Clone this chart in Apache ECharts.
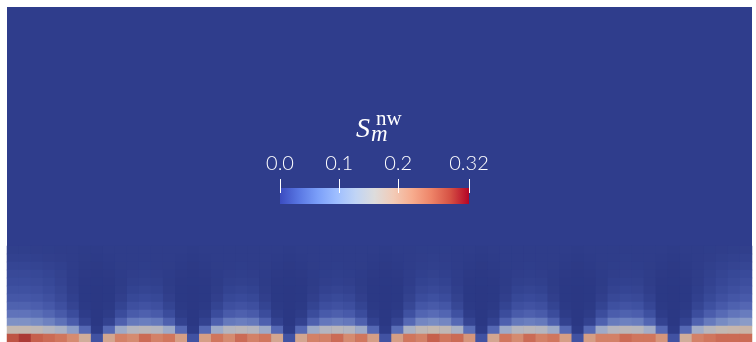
<!DOCTYPE html>
<html><head><meta charset="utf-8">
<script src="https://cdn.jsdelivr.net/npm/echarts@6/dist/echarts.min.js"></script>
<style>html,body{margin:0;padding:0;background:#fff}#c{width:756px;height:342px}</style>
</head><body><div id="c"></div><script>
// Saturation S_m^nw near the bottom boundary: rows top -> bottom, 62 columns left -> right
const satMax = 0.32;
const cbTicks = [0, 0.1, 0.2, 0.32];
const cbLabels = ['0.0', '0.1', '0.2', '0.32'];
const coolwarm = ['#3b4cc0','#5977e3','#7b9ff9','#9ebeff','#c0d4f5','#dddcdc','#f2cbb7','#f7ac8e','#ee8468','#d65244','#b40426'];
const fieldColors = ['#2b3884','#334290','#3b4c9c','#4658a8','#5568b4','#6a7ebf','#8093c6','#98a6c9','#b0b4c4','#c4b8b0','#d0ad9a','#d59e85','#d58b70','#d0765d','#c6604c','#b6483c','#a02c2e'];

const row0  = [.013,.013,.012,.011,.01,.01,.008, .008, .01,.01,.01,.01,.01,.01,.01, .008, .01,.01,.01,.01,.01,.01,.01, .008, .01,.01,.01,.01,.01,.01,.01, .008, .01,.01,.011,.011,.011,.01,.01, .008, .01,.01,.01,.01,.01,.01,.01, .008, .01,.01,.01,.01,.01,.01,.01, .008, .01,.01,.011,.012,.013,.014];
const row1  = [.018,.018,.016,.014,.012,.01,.007, .006, .008,.01,.01,.01,.01,.01,.008, .006, .008,.01,.01,.01,.01,.01,.008, .006, .008,.01,.01,.01,.01,.01,.008, .006, .008,.01,.012,.013,.012,.01,.008, .006, .008,.01,.01,.01,.01,.01,.008, .006, .008,.01,.01,.011,.01,.01,.008, .006, .008,.01,.012,.015,.018,.02];
const row2  = [.026,.026,.023,.02,.016,.01,.005, .004, .006,.009,.01,.011,.01,.009,.006, .004, .006,.009,.01,.011,.01,.009,.006, .004, .006,.009,.01,.011,.01,.009,.006, .004, .006,.01,.013,.015,.013,.01,.006, .004, .006,.009,.01,.011,.01,.009,.006, .004, .006,.009,.011,.012,.011,.009,.006, .004, .006,.01,.015,.02,.024,.027];
const row3  = [.034,.034,.031,.026,.019,.01,.004, .002, .004,.008,.012,.013,.012,.008,.004, .002, .004,.008,.012,.013,.012,.008,.004, .002, .004,.008,.011,.013,.011,.008,.004, .002, .004,.01,.016,.019,.016,.01,.004, .002, .004,.008,.012,.013,.012,.008,.004, .002, .004,.008,.012,.014,.013,.009,.004, .002, .004,.009,.017,.025,.031,.036];
const row4  = [.04,.04,.037,.031,.022,.01,.002, .001, .002,.007,.015,.017,.015,.007,.002, .001, .002,.007,.015,.017,.015,.007,.002, .001, .002,.007,.014,.016,.014,.007,.002, .001, .002,.01,.021,.025,.021,.01,.002, .001, .002,.007,.015,.017,.015,.007,.002, .001, .002,.007,.016,.018,.017,.009,.002, .001, .002,.009,.02,.03,.037,.043];
const row5  = [.048,.048,.045,.038,.027,.012,.001, 0, .001,.009,.021,.025,.021,.009,.001, 0, .001,.009,.021,.025,.021,.009,.001, 0, .001,.009,.02,.024,.02,.009,.001, 0, .001,.013,.029,.034,.029,.013,.001, 0, .001,.009,.021,.025,.021,.009,.001, 0, .001,.009,.022,.026,.024,.012,.001, 0, .001,.011,.025,.037,.045,.052];
const row6  = [.058,.058,.055,.047,.034,.016,.001, 0, .001,.014,.031,.036,.031,.014,.001, 0, .001,.014,.031,.036,.031,.014,.001, 0, .001,.014,.03,.035,.03,.014,.001, 0, .001,.019,.04,.046,.04,.019,.001, 0, .001,.014,.031,.036,.031,.014,.001, 0, .001,.014,.032,.037,.034,.018,.001, 0, .001,.016,.033,.047,.056,.063];
const row7  = [.072,.072,.068,.06,.045,.024,.003, 0, .003,.023,.045,.05,.045,.023,.003, 0, .003,.023,.045,.05,.045,.023,.003, 0, .003,.023,.044,.049,.044,.023,.003, 0, .003,.029,.056,.062,.056,.029,.003, 0, .003,.023,.045,.05,.045,.023,.003, 0, .003,.023,.046,.052,.048,.028,.003, 0, .003,.025,.046,.061,.071,.078];
const row8  = [.09,.09,.086,.077,.062,.04,.008, 0, .007,.04,.064,.07,.064,.04,.007, 0, .007,.04,.064,.07,.064,.04,.007, 0, .007,.04,.063,.069,.063,.04,.007, 0, .008,.048,.076,.083,.076,.048,.008, 0, .007,.04,.064,.07,.064,.04,.007, 0, .007,.041,.066,.072,.068,.046,.008, 0, .007,.042,.066,.082,.092,.098];
const row9  = [.118,.118,.113,.103,.088,.065,.022, 0, .02,.07,.095,.10,.095,.07,.02, 0, .02,.07,.095,.10,.095,.07,.02, 0, .02,.07,.094,.099,.094,.07,.02, 0, .024,.08,.108,.114,.108,.08,.024, 0, .02,.07,.095,.10,.095,.07,.02, 0, .02,.071,.097,.103,.099,.076,.022, 0, .02,.072,.096,.112,.122,.128];
const row10 = [.18,.18,.175,.165,.155,.13,.08, .006, .08,.145,.165,.17,.165,.145,.08, .006, .08,.145,.165,.17,.165,.145,.08, .006, .08,.145,.164,.169,.164,.145,.08, .006, .085,.155,.175,.18,.175,.155,.085, .006, .08,.145,.165,.17,.165,.145,.08, .006, .08,.146,.166,.172,.168,.15,.08, .006, .08,.148,.168,.178,.183,.188];
const row11 = [.29,.31,.28,.27,.26,.24,.20, .05, .21,.25,.24,.27,.25,.26,.22, .05, .22,.26,.24,.27,.25,.26,.21, .05, .21,.25,.25,.27,.24,.26,.22, .05, .22,.26,.25,.28,.26,.27,.23, .05, .21,.26,.24,.27,.25,.26,.22, .05, .22,.25,.25,.27,.26,.26,.23, .05, .20,.25,.26,.27,.27,.27];
const fieldRows = [row0,row1,row2,row3,row4,row5,row6,row7,row8,row9,row10,row11];

const colNames = row0.map((_, i) => 'c' + i);
const rowNames = fieldRows.map((_, j) => 'r' + j);
const heat = [];
fieldRows.forEach((r, j) => r.forEach((v, i) => heat.push([i, j, v])));

const chart = echarts.init(document.getElementById('c'), null, {renderer: 'canvas'});
chart.setOption({
  animation: false,
  backgroundColor: '#ffffff',
  grid: [
    {left: 7, right: 4, top: 7, bottom: 0, show: true, backgroundColor: '#2f3d8c', borderWidth: 0},
    {left: 7, right: 4, top: 246, bottom: 0},
    {left: 280, top: 188, width: 189, height: 16}
  ],
  xAxis: [
    {gridIndex: 0, type: 'value', show: false},
    {gridIndex: 1, type: 'category', data: colNames, show: false},
    {gridIndex: 2, type: 'value', min: 0, max: satMax, position: 'top', offset: -5, z: 10,
     axisLine: {show: false}, splitLine: {show: false},
     axisTick: {show: true, customValues: cbTicks, length: 14, lineStyle: {color: '#ffffff', width: 1}},
     axisLabel: {customValues: cbTicks, margin: 19, color: '#ffffff', fontSize: 20, fontFamily: 'Lato', fontWeight: 300,
       formatter: v => { let k = 0; cbTicks.forEach((t, i) => { if (Math.abs(t - v) < Math.abs(cbTicks[k] - v)) k = i; }); return cbLabels[k]; }}}
  ],
  yAxis: [
    {gridIndex: 0, type: 'value', show: false},
    {gridIndex: 1, type: 'category', data: rowNames, inverse: true, show: false},
    {gridIndex: 2, type: 'category', data: ['bar'], show: false}
  ],
  visualMap: [{
    show: false, seriesIndex: 0, min: 0, max: satMax, calculable: false,
    inRange: {color: fieldColors}
  }],
  series: [
    {type: 'heatmap', xAxisIndex: 1, yAxisIndex: 1, data: heat, itemStyle: {borderWidth: 0}, emphasis: {disabled: true}},
    {type: 'bar', xAxisIndex: 2, yAxisIndex: 2, data: [satMax], barWidth: '100%', z: 2,
     itemStyle: {color: new echarts.graphic.LinearGradient(0, 0, 1, 0, coolwarm.map((c, i) => ({offset: i / (coolwarm.length - 1), color: c})))}}
  ],
  graphic: [
    {type: 'text', x: 356, y: 130, style: {text: 'S', font: 'italic 28px "Liberation Serif"', fill: '#ffffff', align: 'left', verticalAlign: 'middle'}},
    {type: 'text', x: 376, y: 119, style: {text: 'nw', font: '21px "Liberation Serif"', fill: '#ffffff', align: 'left', verticalAlign: 'middle'}},
    {type: 'text', x: 371, y: 135, style: {text: 'm', font: 'italic 23px "Liberation Serif"', fill: '#ffffff', align: 'left', verticalAlign: 'middle'}}
  ]
});
</script></body></html>
